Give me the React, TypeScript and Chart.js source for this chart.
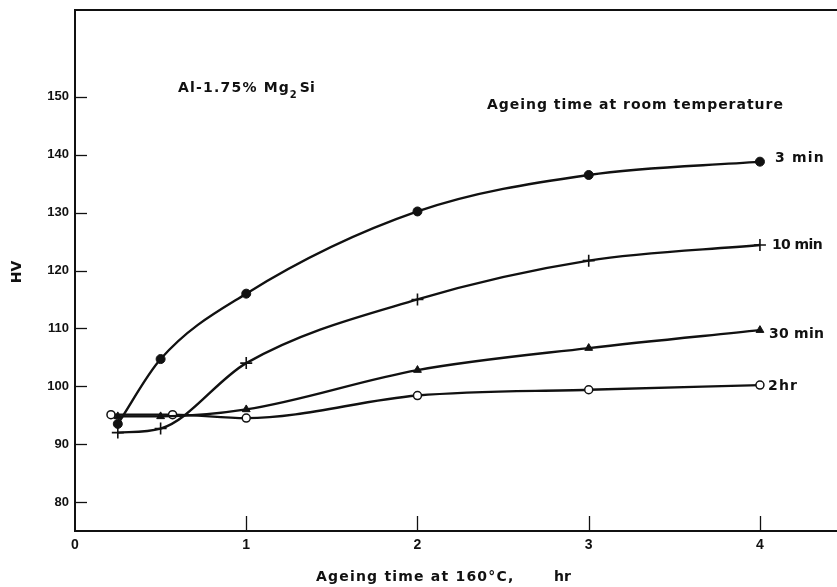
import React, { useEffect, useRef } from "react";
import { Chart, registerables } from "chart.js";

Chart.register(...registerables);

// ---- data ----
const seriesLabels = ["3 min", "10 min", "30 min", "2hr"];

const time3min = [0.25, 0.5, 1, 2, 3, 4];
const hv3min = [93.5, 104.7, 116.0, 130.2, 136.5, 138.8];

const time10min = [0.25, 0.5, 1, 2, 3, 4];
const hv10min = [92.0, 92.7, 104.0, 115.0, 121.7, 124.4];

const time30min = [0.25, 0.5, 1, 2, 3, 4];
const hv30min = [94.8, 94.8, 96.0, 102.8, 106.6, 109.7];

const time2hr = [0.21, 0.57, 1, 2, 3, 4];
const hv2hr = [95.1, 95.1, 94.5, 98.4, 99.4, 100.2];

const xTickValues = [0, 1, 2, 3, 4];
const yTickValues = [80, 90, 100, 110, 120, 130, 140, 150];

const alloyLabel = "Al-1.75% Mg";
const alloySub = "2";
const alloyTail = "Si";
const legendHeading = "Ageing time at room temperature";
const xTitle = "Ageing time at 160°C,";
const xTitleUnit = "hr";
const yTitle = "HV";

const INK = "#111111";
const FONT = "Liberation Sans, Arial, sans-serif";
const WIDE = "DejaVu Sans, Verdana, sans-serif";

function toPoints(xs: number[], ys: number[]) {
  return xs.map((x, i) => ({ x, y: ys[i] }));
}

// draws text stretched toward a target width; returns the x where it ends
function drawFitted(
  ctx: CanvasRenderingContext2D,
  text: string,
  x: number,
  y: number,
  width: number
): number {
  (ctx as any).letterSpacing = "0px";
  const w = ctx.measureText(text).width;
  let sp = text.length > 1 ? (width - w) / (text.length - 1) : 0;
  sp = Math.max(-0.6, Math.min(1.2, sp));
  (ctx as any).letterSpacing = sp.toFixed(2) + "px";
  ctx.fillText(text, x, y);
  (ctx as any).letterSpacing = "0px";
  return x + w + sp * (text.length - 1);
}

const annotatePlugin = {
  id: "annotate",
  afterDraw(chart: any) {
    const { ctx, chartArea, scales } = chart;
    const xs = scales.x;
    const ys = scales.y;
    ctx.save();
    ctx.strokeStyle = INK;
    ctx.fillStyle = INK;
    ctx.lineCap = "butt";

    // top frame line
    ctx.lineWidth = 2;
    ctx.beginPath();
    ctx.moveTo(chartArea.left - 1, chartArea.top);
    ctx.lineTo(chartArea.right, chartArea.top);
    ctx.stroke();

    // inward tick marks
    ctx.lineWidth = 1.3;
    yTickValues.forEach((v) => {
      const y = Math.round(ys.getPixelForValue(v)) + 0.5;
      ctx.beginPath();
      ctx.moveTo(chartArea.left, y);
      ctx.lineTo(chartArea.left + 12, y);
      ctx.stroke();
    });
    xTickValues
      .filter((v) => v > 0)
      .forEach((v) => {
        const x = Math.round(xs.getPixelForValue(v)) + 0.5;
        ctx.beginPath();
        ctx.moveTo(x, chartArea.bottom);
        ctx.lineTo(x, chartArea.bottom - 15);
        ctx.stroke();
      });

    ctx.textBaseline = "middle";
    ctx.textAlign = "left";

    // alloy label
    ctx.font = `bold 14px ${WIDE}`;
    let end = drawFitted(ctx, alloyLabel, 178, 88, 120);
    ctx.font = `bold 10px ${WIDE}`;
    ctx.fillText(alloySub, end + 1, 95);
    end += 1 + ctx.measureText(alloySub).width;
    ctx.font = `bold 14px ${WIDE}`;
    ctx.fillText(alloyTail, end + 3, 88);

    // legend heading
    ctx.font = `bold 14px ${WIDE}`;
    drawFitted(ctx, legendHeading, 487, 105, 296);

    // series end labels
    const lastVals = [
      hv3min[hv3min.length - 1],
      hv10min[hv10min.length - 1],
      hv30min[hv30min.length - 1],
      hv2hr[hv2hr.length - 1],
    ];
    const lastT = [
      time3min[time3min.length - 1],
      time10min[time10min.length - 1],
      time30min[time30min.length - 1],
      time2hr[time2hr.length - 1],
    ];
    const gaps = [15, 12, 9, 8];
    const widths = [52, 50, 55, 33];
    const dy = [-3, 0, 4, 1];
    ctx.font = `bold 14px ${WIDE}`;
    seriesLabels.forEach((lab, i) => {
      const px = xs.getPixelForValue(lastT[i]) + gaps[i];
      const py = ys.getPixelForValue(lastVals[i]) + dy[i];
      drawFitted(ctx, lab, px, py, widths[i]);
    });

    // x title
    ctx.font = `bold 14px ${WIDE}`;
    drawFitted(ctx, xTitle, 316, 577, 205);
    ctx.fillText(xTitleUnit, 554, 577);

    // y title
    ctx.save();
    ctx.translate(17, 272);
    ctx.rotate(-Math.PI / 2);
    ctx.textAlign = "center";
    ctx.font = `bold 14px ${WIDE}`;
    ctx.fillText(yTitle, 0, 0);
    ctx.restore();

    ctx.restore();
  },
};

export default function App() {
  const canvasRef = useRef<HTMLCanvasElement | null>(null);

  useEffect(() => {
    document.body.style.margin = "0";
    const canvas = canvasRef.current;
    if (!canvas) return;

    const common = {
      borderColor: INK,
      backgroundColor: INK,
      borderWidth: 2.4,
      cubicInterpolationMode: "monotone" as const,
      pointBorderColor: INK,
      fill: false,
    };

    const chart = new Chart(canvas, {
      type: "line",
      data: {
        datasets: [
          {
            ...common,
            label: seriesLabels[0],
            data: toPoints(time3min, hv3min),
            pointStyle: "circle",
            pointRadius: 4.5,
            pointBackgroundColor: INK,
            pointBorderWidth: 1,
          },
          {
            ...common,
            label: seriesLabels[1],
            data: toPoints(time10min, hv10min),
            pointStyle: "cross",
            pointRadius: 6,
            pointBorderWidth: 1.6,
          },
          {
            ...common,
            label: seriesLabels[2],
            data: toPoints(time30min, hv30min),
            pointStyle: "triangle",
            pointRadius: 4.5,
            pointBackgroundColor: INK,
            pointBorderWidth: 1,
          },
          {
            ...common,
            label: seriesLabels[3],
            data: toPoints(time2hr, hv2hr),
            pointStyle: "circle",
            pointRadius: 4,
            pointBackgroundColor: "#ffffff",
            pointBorderWidth: 1.5,
          },
        ],
      },
      options: {
        animation: false,
        responsive: false,
        devicePixelRatio: 1,
        layout: {
          autoPadding: false,
          padding: { top: 10, right: 0, left: 0, bottom: 0 },
        },
        plugins: {
          legend: { display: false },
          tooltip: { enabled: false },
        },
        scales: {
          x: {
            type: "linear",
            min: 0,
            max: 4.45,
            afterBuildTicks: (scale: any) => {
              scale.ticks = xTickValues.map((v) => ({ value: v }));
            },
            afterFit: (scale: any) => {
              scale.height = 56;
              scale.paddingLeft = 0;
              scale.paddingRight = 0;
            },
            grid: { drawOnChartArea: false, drawTicks: false },
            border: { display: true, color: INK, width: 2 },
            ticks: {
              color: INK,
              padding: 6,
              font: { family: FONT, size: 14, weight: "bold" },
              callback: (v: any) => String(v),
            },
          },
          y: {
            type: "linear",
            min: 75,
            max: 165,
            afterBuildTicks: (scale: any) => {
              scale.ticks = yTickValues.map((v) => ({ value: v }));
            },
            afterFit: (scale: any) => {
              scale.width = 75;
              scale.paddingTop = 0;
              scale.paddingBottom = 0;
            },
            grid: { drawOnChartArea: false, drawTicks: false },
            border: { display: true, color: INK, width: 2 },
            ticks: {
              color: INK,
              padding: 6,
              font: { family: FONT, size: 13, weight: "bold" },
              callback: (v: any) => String(v),
            },
          },
        },
      },
      plugins: [annotatePlugin],
    });

    return () => {
      chart.destroy();
    };
  }, []);

  return (
    <div style={{ width: 837, height: 587, background: "#ffffff" }}>
      <canvas ref={canvasRef} width={837} height={587} />
    </div>
  );
}
